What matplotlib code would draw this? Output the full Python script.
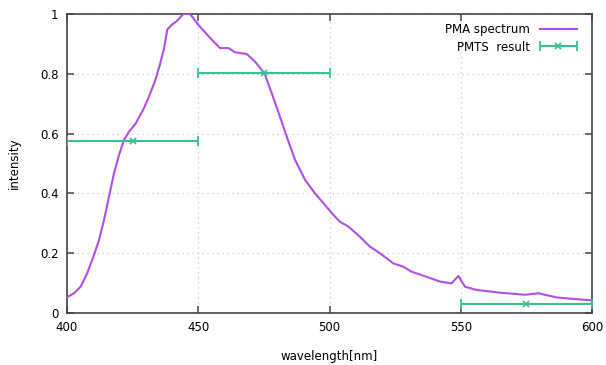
import matplotlib
matplotlib.use("Agg")
import matplotlib.pyplot as plt
from matplotlib.legend_handler import HandlerErrorbar
from matplotlib.container import ErrorbarContainer

# PMA spectrum
wavelength = [400.0, 402.7, 405.2, 407.7, 410.3, 412.2, 414.1, 416.0, 417.9, 419.8,
              421.7, 423.6, 426.2, 429.3, 431.0, 433.5, 435.4, 437.0, 438.2, 439.9,
              441.8, 444.3, 446.9, 450.0, 454.5, 458.3, 461.5, 464.0, 468.5, 471.6,
              475.2, 478.0, 481.1, 483.7, 486.9, 490.7, 494.5, 498.3, 501.5, 504.0,
              507.2, 511.6, 515.4, 519.2, 524.3, 528.1, 531.3, 537.0, 542.1, 546.5,
              549.1, 551.6, 556.1, 565.0, 574.5, 579.6, 586.6, 593.0, 600.0]
intensity = [0.053, 0.066, 0.088, 0.133, 0.194, 0.244, 0.311, 0.389, 0.467, 0.528,
             0.579, 0.606, 0.634, 0.685, 0.719, 0.775, 0.831, 0.886, 0.948, 0.964,
             0.976, 1.0, 1.0, 0.964, 0.920, 0.886, 0.886, 0.872, 0.866, 0.841,
             0.802, 0.735, 0.657, 0.590, 0.512, 0.445, 0.400, 0.361, 0.328, 0.305,
             0.289, 0.255, 0.222, 0.200, 0.166, 0.155, 0.138, 0.121, 0.105, 0.099,
             0.124, 0.088, 0.077, 0.068, 0.061, 0.066, 0.052, 0.047, 0.042]

# PMTS result
pmts_x = [425, 475, 575]
pmts_y = [0.575, 0.802, 0.030]
pmts_xerr = [25, 25, 25]

x_ticks = [400, 450, 500, 550, 600]
y_ticks = [0, 0.2, 0.4, 0.6, 0.8, 1]
y_ticklabels = ["0", "0.2", "0.4", "0.6", "0.8", "1"]

purple = "#b04ee8"
green = "#3dbf92"

fig = plt.figure(figsize=(6.06, 3.65), dpi=100)
ax = fig.add_axes([67/606, 1-313/365, (592-67)/606, (313-14)/365])

ax.plot(wavelength, intensity, color=purple, lw=1.5, label="PMA spectrum", zorder=3,
        solid_joinstyle="round")
ax.errorbar(pmts_x, pmts_y, xerr=pmts_xerr, fmt='x', color=green, ecolor=green,
            elinewidth=1.5, capsize=3.5, capthick=1.3, ms=5, mew=1.3,
            label="PMTS  result", zorder=3)

ax.set_xlim(400, 600)
ax.set_ylim(0, 1)
ax.set_xticks(x_ticks)
ax.set_yticks(y_ticks)
ax.set_yticklabels(y_ticklabels)
ax.grid(True, color="#c8c8c8", linestyle=(0, (1, 3)), lw=0.9)
ax.tick_params(direction="in", top=True, right=True, length=5, width=1.2,
               color="#555555", labelsize=8.5, pad=6)
for s in ax.spines.values():
    s.set_color("#444444")
    s.set_linewidth(1.2)

ax.set_xlabel("wavelength[nm]", fontsize=8.5, labelpad=11)
ax.set_ylabel("intensity", fontsize=8.5, labelpad=14)

hl = 3.2
leg = ax.legend(loc="upper right", bbox_to_anchor=(0.99, 1.0), frameon=False,
                markerfirst=False, fontsize=8.5,
                handlelength=hl, borderaxespad=0.4, labelspacing=0.35,
                handler_map={ErrorbarContainer: HandlerErrorbar(xerr_size=hl/2)})
for t in leg.get_texts():
    t.set_ha("right")

fig.savefig("out.png", dpi=100)
